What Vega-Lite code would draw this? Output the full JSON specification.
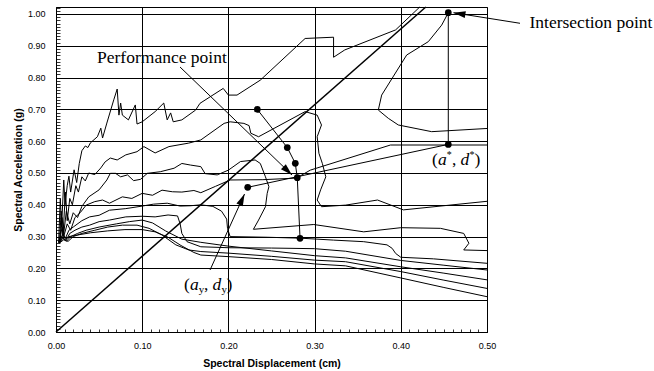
{
"$schema": "https://vega.github.io/schema/vega-lite/v6.json",
"width": 431, "height": 325,
"autosize": {"type": "none"},
"padding": {"left": 56, "top": 7, "right": 167, "bottom": 39},
"background": "white",
"config": {"view": {"stroke": "#000", "strokeWidth": 1}},
"datasets": {
"curves": [
{"s":"A","i":0,"x":0.003,"y":0.28},{"s":"A","i":1,"x":0.005,"y":0.42},{"s":"A","i":2,"x":0.0065,"y":0.33},{"s":"A","i":3,"x":0.009,"y":0.478},{"s":"A","i":4,"x":0.0105,"y":0.40},{"s":"A","i":5,"x":0.013,"y":0.46},{"s":"A","i":6,"x":0.015,"y":0.49},{"s":"A","i":7,"x":0.017,"y":0.44},{"s":"A","i":8,"x":0.021,"y":0.51},{"s":"A","i":9,"x":0.024,"y":0.47},{"s":"A","i":10,"x":0.027,"y":0.53},{"s":"A","i":11,"x":0.030,"y":0.57},{"s":"A","i":12,"x":0.034,"y":0.585},{"s":"A","i":13,"x":0.037,"y":0.58},{"s":"A","i":14,"x":0.040,"y":0.595},{"s":"A","i":15,"x":0.048,"y":0.614},{"s":"A","i":16,"x":0.052,"y":0.641},{"s":"A","i":17,"x":0.054,"y":0.610},{"s":"A","i":18,"x":0.059,"y":0.657},{"s":"A","i":19,"x":0.067,"y":0.730},{"s":"A","i":20,"x":0.071,"y":0.764},{"s":"A","i":21,"x":0.073,"y":0.682},{"s":"A","i":22,"x":0.075,"y":0.720},{"s":"A","i":23,"x":0.077,"y":0.682},{"s":"A","i":24,"x":0.084,"y":0.667},{"s":"A","i":25,"x":0.092,"y":0.714},{"s":"A","i":26,"x":0.094,"y":0.654},{"s":"A","i":27,"x":0.100,"y":0.661},{"s":"A","i":28,"x":0.115,"y":0.693},{"s":"A","i":29,"x":0.125,"y":0.72},{"s":"A","i":30,"x":0.129,"y":0.667},{"s":"A","i":31,"x":0.133,"y":0.689},{"s":"A","i":32,"x":0.136,"y":0.661},{"s":"A","i":33,"x":0.146,"y":0.667},{"s":"A","i":34,"x":0.162,"y":0.698},{"s":"A","i":35,"x":0.167,"y":0.719},{"s":"A","i":36,"x":0.194,"y":0.766},{"s":"A","i":37,"x":0.200,"y":0.745},{"s":"A","i":38,"x":0.210,"y":0.745},{"s":"A","i":39,"x":0.237,"y":0.792},{"s":"A","i":40,"x":0.289,"y":0.923},{"s":"A","i":41,"x":0.322,"y":0.927},{"s":"A","i":42,"x":0.322,"y":0.864},{"s":"A","i":43,"x":0.335,"y":0.887},{"s":"A","i":44,"x":0.394,"y":0.950},{"s":"A","i":45,"x":0.422,"y":1.022},
{"s":"B","i":0,"x":0.004,"y":0.28},{"s":"B","i":1,"x":0.006,"y":0.38},{"s":"B","i":2,"x":0.008,"y":0.30},{"s":"B","i":3,"x":0.011,"y":0.44},{"s":"B","i":4,"x":0.013,"y":0.35},{"s":"B","i":5,"x":0.016,"y":0.42},{"s":"B","i":6,"x":0.019,"y":0.40},{"s":"B","i":7,"x":0.023,"y":0.46},{"s":"B","i":8,"x":0.026,"y":0.44},{"s":"B","i":9,"x":0.030,"y":0.488},{"s":"B","i":10,"x":0.034,"y":0.475},{"s":"B","i":11,"x":0.038,"y":0.50},{"s":"B","i":12,"x":0.045,"y":0.495},{"s":"B","i":13,"x":0.052,"y":0.516},{"s":"B","i":14,"x":0.057,"y":0.535},{"s":"B","i":15,"x":0.063,"y":0.547},{"s":"B","i":16,"x":0.071,"y":0.541},{"s":"B","i":17,"x":0.081,"y":0.557},{"s":"B","i":18,"x":0.094,"y":0.567},{"s":"B","i":19,"x":0.102,"y":0.583},{"s":"B","i":20,"x":0.115,"y":0.563},{"s":"B","i":21,"x":0.131,"y":0.583},{"s":"B","i":22,"x":0.154,"y":0.594},{"s":"B","i":23,"x":0.168,"y":0.604},{"s":"B","i":24,"x":0.195,"y":0.656},{"s":"B","i":25,"x":0.202,"y":0.661},{"s":"B","i":26,"x":0.218,"y":0.656},{"s":"B","i":27,"x":0.224,"y":0.649},{"s":"B","i":28,"x":0.226,"y":0.625},{"s":"B","i":29,"x":0.235,"y":0.614},{"s":"B","i":30,"x":0.289,"y":0.693},{"s":"B","i":31,"x":0.303,"y":0.682},{"s":"B","i":32,"x":0.308,"y":0.651},{"s":"B","i":33,"x":0.303,"y":0.614},{"s":"B","i":34,"x":0.305,"y":0.562},{"s":"B","i":35,"x":0.309,"y":0.530},{"s":"B","i":36,"x":0.313,"y":0.488},{"s":"B","i":37,"x":0.307,"y":0.447},{"s":"B","i":38,"x":0.303,"y":0.415},{"s":"B","i":39,"x":0.308,"y":0.394},{"s":"B","i":40,"x":0.336,"y":0.399},{"s":"B","i":41,"x":0.373,"y":0.415},{"s":"B","i":42,"x":0.403,"y":0.384},{"s":"B","i":43,"x":0.50,"y":0.411},
{"s":"C","i":0,"x":0.004,"y":0.28},{"s":"C","i":1,"x":0.007,"y":0.36},{"s":"C","i":2,"x":0.009,"y":0.31},{"s":"C","i":3,"x":0.012,"y":0.38},{"s":"C","i":4,"x":0.016,"y":0.34},{"s":"C","i":5,"x":0.020,"y":0.375},{"s":"C","i":6,"x":0.025,"y":0.36},{"s":"C","i":7,"x":0.030,"y":0.395},{"s":"C","i":8,"x":0.038,"y":0.425},{"s":"C","i":9,"x":0.050,"y":0.447},{"s":"C","i":10,"x":0.059,"y":0.478},{"s":"C","i":11,"x":0.063,"y":0.499},{"s":"C","i":12,"x":0.069,"y":0.499},{"s":"C","i":13,"x":0.075,"y":0.488},{"s":"C","i":14,"x":0.083,"y":0.494},{"s":"C","i":15,"x":0.090,"y":0.476},{"s":"C","i":16,"x":0.098,"y":0.480},{"s":"C","i":17,"x":0.106,"y":0.499},{"s":"C","i":18,"x":0.121,"y":0.504},{"s":"C","i":19,"x":0.137,"y":0.515},{"s":"C","i":20,"x":0.146,"y":0.530},{"s":"C","i":21,"x":0.156,"y":0.525},{"s":"C","i":22,"x":0.168,"y":0.520},{"s":"C","i":23,"x":0.173,"y":0.498},{"s":"C","i":24,"x":0.187,"y":0.494},{"s":"C","i":25,"x":0.200,"y":0.509},{"s":"C","i":26,"x":0.214,"y":0.536},{"s":"C","i":27,"x":0.231,"y":0.541},{"s":"C","i":28,"x":0.237,"y":0.530},{"s":"C","i":29,"x":0.243,"y":0.488},{"s":"C","i":30,"x":0.247,"y":0.457},{"s":"C","i":31,"x":0.245,"y":0.436},{"s":"C","i":32,"x":0.243,"y":0.394},{"s":"C","i":33,"x":0.235,"y":0.352},{"s":"C","i":34,"x":0.229,"y":0.323},{"s":"C","i":35,"x":0.299,"y":0.338},{"s":"C","i":36,"x":0.357,"y":0.315},{"s":"C","i":37,"x":0.400,"y":0.328},{"s":"C","i":38,"x":0.446,"y":0.326},{"s":"C","i":39,"x":0.473,"y":0.310},{"s":"C","i":40,"x":0.479,"y":0.279},{"s":"C","i":41,"x":0.473,"y":0.258},{"s":"C","i":42,"x":0.50,"y":0.256},
{"s":"D","i":0,"x":0.004,"y":0.28},{"s":"D","i":1,"x":0.007,"y":0.33},{"s":"D","i":2,"x":0.009,"y":0.30},{"s":"D","i":3,"x":0.013,"y":0.34},{"s":"D","i":4,"x":0.017,"y":0.32},{"s":"D","i":5,"x":0.022,"y":0.36},{"s":"D","i":6,"x":0.028,"y":0.375},{"s":"D","i":7,"x":0.035,"y":0.399},{"s":"D","i":8,"x":0.045,"y":0.41},{"s":"D","i":9,"x":0.054,"y":0.415},{"s":"D","i":10,"x":0.062,"y":0.405},{"s":"D","i":11,"x":0.077,"y":0.425},{"s":"D","i":12,"x":0.088,"y":0.420},{"s":"D","i":13,"x":0.100,"y":0.436},{"s":"D","i":14,"x":0.112,"y":0.430},{"s":"D","i":15,"x":0.123,"y":0.446},{"s":"D","i":16,"x":0.135,"y":0.441},{"s":"D","i":17,"x":0.146,"y":0.440},{"s":"D","i":18,"x":0.160,"y":0.445},{"s":"D","i":19,"x":0.168,"y":0.438},{"s":"D","i":20,"x":0.185,"y":0.458},{"s":"D","i":21,"x":0.202,"y":0.478},{"s":"D","i":22,"x":0.240,"y":0.479},{"s":"D","i":23,"x":0.279,"y":0.484},{"s":"D","i":24,"x":0.295,"y":0.509},{"s":"D","i":25,"x":0.388,"y":0.588},{"s":"D","i":26,"x":0.50,"y":0.588},
{"s":"E","i":0,"x":0.004,"y":0.28},{"s":"E","i":1,"x":0.008,"y":0.31},{"s":"E","i":2,"x":0.011,"y":0.295},{"s":"E","i":3,"x":0.015,"y":0.32},{"s":"E","i":4,"x":0.020,"y":0.33},{"s":"E","i":5,"x":0.030,"y":0.35},{"s":"E","i":6,"x":0.039,"y":0.362},{"s":"E","i":7,"x":0.050,"y":0.367},{"s":"E","i":8,"x":0.062,"y":0.383},{"s":"E","i":9,"x":0.081,"y":0.388},{"s":"E","i":10,"x":0.100,"y":0.396},{"s":"E","i":11,"x":0.113,"y":0.402},{"s":"E","i":12,"x":0.129,"y":0.405},{"s":"E","i":13,"x":0.144,"y":0.396},{"s":"E","i":14,"x":0.156,"y":0.397},{"s":"E","i":15,"x":0.168,"y":0.400},{"s":"E","i":16,"x":0.182,"y":0.395},{"s":"E","i":17,"x":0.192,"y":0.380},{"s":"E","i":18,"x":0.198,"y":0.355},{"s":"E","i":19,"x":0.199,"y":0.325},{"s":"E","i":20,"x":0.202,"y":0.300},{"s":"E","i":21,"x":0.245,"y":0.298},{"s":"E","i":22,"x":0.284,"y":0.295},{"s":"E","i":23,"x":0.322,"y":0.289},{"s":"E","i":24,"x":0.357,"y":0.284},{"s":"E","i":25,"x":0.384,"y":0.274},{"s":"E","i":26,"x":0.390,"y":0.263},{"s":"E","i":27,"x":0.394,"y":0.247},{"s":"E","i":28,"x":0.400,"y":0.235},{"s":"E","i":29,"x":0.438,"y":0.230},{"s":"E","i":30,"x":0.50,"y":0.216},
{"s":"F","i":0,"x":0.004,"y":0.28},{"s":"F","i":1,"x":0.008,"y":0.30},{"s":"F","i":2,"x":0.012,"y":0.29},{"s":"F","i":3,"x":0.016,"y":0.31},{"s":"F","i":4,"x":0.022,"y":0.32},{"s":"F","i":5,"x":0.030,"y":0.33},{"s":"F","i":6,"x":0.039,"y":0.336},{"s":"F","i":7,"x":0.050,"y":0.347},{"s":"F","i":8,"x":0.062,"y":0.352},{"s":"F","i":9,"x":0.081,"y":0.362},{"s":"F","i":10,"x":0.100,"y":0.364},{"s":"F","i":11,"x":0.115,"y":0.362},{"s":"F","i":12,"x":0.130,"y":0.368},{"s":"F","i":13,"x":0.141,"y":0.365},{"s":"F","i":14,"x":0.144,"y":0.340},{"s":"F","i":15,"x":0.146,"y":0.310},{"s":"F","i":16,"x":0.152,"y":0.284},{"s":"F","i":17,"x":0.168,"y":0.268},{"s":"F","i":18,"x":0.200,"y":0.265},{"s":"F","i":19,"x":0.250,"y":0.264},{"s":"F","i":20,"x":0.300,"y":0.262},{"s":"F","i":21,"x":0.336,"y":0.254},{"s":"F","i":22,"x":0.400,"y":0.225},{"s":"F","i":23,"x":0.450,"y":0.210},{"s":"F","i":24,"x":0.50,"y":0.195},
{"s":"G","i":0,"x":0.004,"y":0.28},{"s":"G","i":1,"x":0.008,"y":0.295},{"s":"G","i":2,"x":0.012,"y":0.285},{"s":"G","i":3,"x":0.017,"y":0.30},{"s":"G","i":4,"x":0.025,"y":0.31},{"s":"G","i":5,"x":0.035,"y":0.32},{"s":"G","i":6,"x":0.050,"y":0.33},{"s":"G","i":7,"x":0.070,"y":0.34},{"s":"G","i":8,"x":0.085,"y":0.347},{"s":"G","i":9,"x":0.100,"y":0.352},{"s":"G","i":10,"x":0.112,"y":0.343},{"s":"G","i":11,"x":0.127,"y":0.318},{"s":"G","i":12,"x":0.146,"y":0.292},{"s":"G","i":13,"x":0.168,"y":0.282},{"s":"G","i":14,"x":0.200,"y":0.270},{"s":"G","i":15,"x":0.250,"y":0.255},{"s":"G","i":16,"x":0.300,"y":0.240},{"s":"G","i":17,"x":0.336,"y":0.233},{"s":"G","i":18,"x":0.400,"y":0.205},{"s":"G","i":19,"x":0.450,"y":0.185},{"s":"G","i":20,"x":0.50,"y":0.164},
{"s":"H","i":0,"x":0.004,"y":0.28},{"s":"H","i":1,"x":0.009,"y":0.29},{"s":"H","i":2,"x":0.014,"y":0.285},{"s":"H","i":3,"x":0.020,"y":0.30},{"s":"H","i":4,"x":0.030,"y":0.31},{"s":"H","i":5,"x":0.045,"y":0.32},{"s":"H","i":6,"x":0.060,"y":0.33},{"s":"H","i":7,"x":0.077,"y":0.336},{"s":"H","i":8,"x":0.094,"y":0.336},{"s":"H","i":9,"x":0.108,"y":0.326},{"s":"H","i":10,"x":0.123,"y":0.305},{"s":"H","i":11,"x":0.139,"y":0.274},{"s":"H","i":12,"x":0.154,"y":0.258},{"s":"H","i":13,"x":0.168,"y":0.253},{"s":"H","i":14,"x":0.200,"y":0.248},{"s":"H","i":15,"x":0.250,"y":0.238},{"s":"H","i":16,"x":0.300,"y":0.226},{"s":"H","i":17,"x":0.336,"y":0.221},{"s":"H","i":18,"x":0.400,"y":0.190},{"s":"H","i":19,"x":0.450,"y":0.163},{"s":"H","i":20,"x":0.50,"y":0.137},
{"s":"I","i":0,"x":0.003,"y":0.283},{"s":"I","i":1,"x":0.006,"y":0.30},{"s":"I","i":2,"x":0.010,"y":0.29},{"s":"I","i":3,"x":0.015,"y":0.30},{"s":"I","i":4,"x":0.025,"y":0.305},{"s":"I","i":5,"x":0.040,"y":0.312},{"s":"I","i":6,"x":0.060,"y":0.318},{"s":"I","i":7,"x":0.080,"y":0.322},{"s":"I","i":8,"x":0.100,"y":0.322},{"s":"I","i":9,"x":0.115,"y":0.315},{"s":"I","i":10,"x":0.130,"y":0.298},{"s":"I","i":11,"x":0.145,"y":0.272},{"s":"I","i":12,"x":0.160,"y":0.250},{"s":"I","i":13,"x":0.168,"y":0.242},{"s":"I","i":14,"x":0.200,"y":0.237},{"s":"I","i":15,"x":0.250,"y":0.228},{"s":"I","i":16,"x":0.300,"y":0.214},{"s":"I","i":17,"x":0.336,"y":0.208},{"s":"I","i":18,"x":0.400,"y":0.170},{"s":"I","i":19,"x":0.450,"y":0.140},{"s":"I","i":20,"x":0.50,"y":0.111},
{"s":"L","i":0,"x":0.4551,"y":1.004},{"s":"L","i":1,"x":0.4474,"y":0.965},{"s":"L","i":2,"x":0.4319,"y":0.913},{"s":"L","i":3,"x":0.4068,"y":0.871},{"s":"L","i":4,"x":0.3778,"y":0.745},{"s":"L","i":5,"x":0.3739,"y":0.698},{"s":"L","i":6,"x":0.3855,"y":0.672},{"s":"L","i":7,"x":0.3971,"y":0.651},{"s":"L","i":8,"x":0.4358,"y":0.630},{"s":"L","i":9,"x":0.50,"y":0.640},
{"s":"cap","i":0,"x":0.2224,"y":0.455},{"s":"cap","i":1,"x":0.4551,"y":0.590},{"s":"cap","i":2,"x":0.4551,"y":1.004},
{"s":"pc","i":0,"x":0.2335,"y":0.700},{"s":"pc","i":1,"x":0.2683,"y":0.580},{"s":"pc","i":2,"x":0.2776,"y":0.5305},{"s":"pc","i":3,"x":0.2799,"y":0.4852},{"s":"pc","i":4,"x":0.2831,"y":0.2947}
],
"diag": [{"x":0,"y":0},{"x":0.429,"y":1.022}],
"pts": [
{"x":0.2335,"y":0.700},{"x":0.2683,"y":0.580},{"x":0.2776,"y":0.5305},{"x":0.2799,"y":0.4852},{"x":0.2831,"y":0.2947},{"x":0.2224,"y":0.455},{"x":0.4551,"y":0.590},{"x":0.4551,"y":1.004}
],
"arrows": [
{"k":"perf","x":0.2738,"y":0.4937,"x2":0.1439,"y2":0.8333},
{"k":"ay","x":0.2187,"y":0.434,"x2":0.1787,"y2":0.195},
{"k":"inter","x":0.4611,"y":1.004,"x2":0.5383,"y2":0.9708}
],
"labels": [
{"k":"perf","x":0.0476,"y":0.8459,"t":"Performance point"},
{"k":"inter","x":0.5493,"y":0.956,"t":"Intersection point"}
],
"coords": [
{"k":"astar","x":0.4362,"y":0.5267},
{"k":"ay","x":0.1485,"y":0.1321}
]
},
"encoding": {
"x": {"field": "x", "type": "quantitative",
 "scale": {"domain": [0, 0.5], "nice": false, "zero": false},
 "axis": {"title": "Spectral Displacement (cm)", "orient": "bottom", "tickCount": 50,
  "grid": true, "gridColor": "#000", "gridWidth": 1,
  "gridOpacity": {"condition": {"test": "abs(datum.value*10-round(datum.value*10))<0.001", "value": 1}, "value": 0},
  "ticks": true, "tickSize": -3, "tickColor": "#000", "tickWidth": 0.8,
  "domainColor": "#000", "domainWidth": 1,
  "labelExpr": "abs(datum.value*10-round(datum.value*10))<0.001 ? format(datum.value,'.2f') : ''",
  "labelOverlap": false, "labelFlush": false, "labelFont": "Liberation Sans", "labelFontSize": 9, "labelColor": "#000", "labelPadding": 12,
  "titleFont": "Liberation Sans", "titleFontSize": 10.5, "titleFontWeight": "bold", "titleColor": "#000", "titlePadding": 8}},
"y": {"field": "y", "type": "quantitative",
 "scale": {"domain": [0, 1.022], "nice": false, "zero": false},
 "axis": {"title": "Spectral Acceleration (g)", "orient": "left", "tickCount": 100,
  "grid": true, "gridColor": "#000", "gridWidth": 1,
  "gridOpacity": {"condition": {"test": "abs(datum.value*10-round(datum.value*10))<0.001", "value": 1}, "value": 0},
  "ticks": true, "tickSize": -4, "tickColor": "#000", "tickWidth": 0.8,
  "domainColor": "#000", "domainWidth": 1,
  "labelExpr": "abs(datum.value*10-round(datum.value*10))<0.001 ? format(datum.value,'.2f') : ''",
  "labelOverlap": false, "labelFlush": false, "labelFont": "Liberation Sans", "labelFontSize": 9, "labelColor": "#000", "labelPadding": 15,
  "titleFont": "Liberation Sans", "titleFontSize": 10.5, "titleFontWeight": "bold", "titleColor": "#000", "titlePadding": 4}}
},
"layer": [
{"data": {"name": "curves"}, "mark": {"type": "line", "color": "#000", "strokeWidth": 1},
 "encoding": {"detail": {"field": "s"}, "order": {"field": "i", "type": "quantitative"}}},
{"data": {"name": "diag"}, "mark": {"type": "line", "color": "#000", "strokeWidth": 1.5}, "encoding": {}},
{"data": {"name": "pts"}, "mark": {"type": "circle", "color": "#000", "size": 45, "opacity": 1}},
{"data": {"name": "arrows"}, "mark": {"type": "rule", "color": "#000", "strokeWidth": 1},
 "encoding": {"x2": {"field": "x2"}, "y2": {"field": "y2"}}},
{"data": {"name": "arrows"}, "transform": [{"filter": "datum.k == 'perf'"}],
 "mark": {"type": "point", "shape": "M0,0L-0.7,2.4L0.7,2.4Z", "filled": true, "color": "#000", "size": 100, "opacity": 1, "angle": 134}},
{"data": {"name": "arrows"}, "transform": [{"filter": "datum.k == 'ay'"}],
 "mark": {"type": "point", "shape": "M0,0L-0.7,2.4L0.7,2.4Z", "filled": true, "color": "#000", "size": 100, "opacity": 1, "angle": 24}},
{"data": {"name": "arrows"}, "transform": [{"filter": "datum.k == 'inter'"}],
 "mark": {"type": "point", "shape": "M0,0L-0.7,2.4L0.7,2.4Z", "filled": true, "color": "#000", "size": 100, "opacity": 1, "angle": 279}},
{"data": {"name": "labels"}, "mark": {"type": "text", "align": "left", "baseline": "alphabetic", "font": "Liberation Serif", "fontSize": 17.5, "color": "#000"},
 "encoding": {"text": {"field": "t"}}},
{"data": {"name": "coords"}, "mark": {"type": "text", "align": "left", "baseline": "alphabetic", "font": "Liberation Serif", "fontSize": 17.5, "color": "#000", "dx": 0, "text": "("}},
{"data": {"name": "coords"}, "mark": {"type": "text", "align": "left", "baseline": "alphabetic", "font": "Liberation Serif", "fontStyle": "italic", "fontSize": 17.5, "color": "#000", "dx": 6, "text": "a"}},
{"data": {"name": "coords"}, "mark": {"type": "text", "align": "left", "baseline": "alphabetic", "font": "Liberation Serif", "fontSize": 17.5, "color": "#000", "dx": 20, "text": ","}},
{"data": {"name": "coords"}, "mark": {"type": "text", "align": "left", "baseline": "alphabetic", "font": "Liberation Serif", "fontStyle": "italic", "fontSize": 17.5, "color": "#000", "dx": 28.5, "text": "d"}},
{"data": {"name": "coords"}, "mark": {"type": "text", "align": "left", "baseline": "alphabetic", "font": "Liberation Serif", "fontSize": 17.5, "color": "#000", "dx": 42.5, "text": ")"}},
{"data": {"name": "coords"}, "transform": [{"filter": "datum.k == 'astar'"}], "mark": {"type": "text", "align": "left", "baseline": "alphabetic", "font": "Liberation Serif", "fontSize": 10, "color": "#000", "dx": 14.8, "dy": -7, "text": "*"}},
{"data": {"name": "coords"}, "transform": [{"filter": "datum.k == 'astar'"}], "mark": {"type": "text", "align": "left", "baseline": "alphabetic", "font": "Liberation Serif", "fontSize": 10, "color": "#000", "dx": 37.5, "dy": -7, "text": "*"}},
{"data": {"name": "coords"}, "transform": [{"filter": "datum.k == 'ay'"}], "mark": {"type": "text", "align": "left", "baseline": "alphabetic", "font": "Liberation Serif", "fontSize": 11, "color": "#000", "dx": 14.8, "dy": 3, "text": "y"}},
{"data": {"name": "coords"}, "transform": [{"filter": "datum.k == 'ay'"}], "mark": {"type": "text", "align": "left", "baseline": "alphabetic", "font": "Liberation Serif", "fontSize": 11, "color": "#000", "dx": 37.5, "dy": 3, "text": "y"}}
]
}
